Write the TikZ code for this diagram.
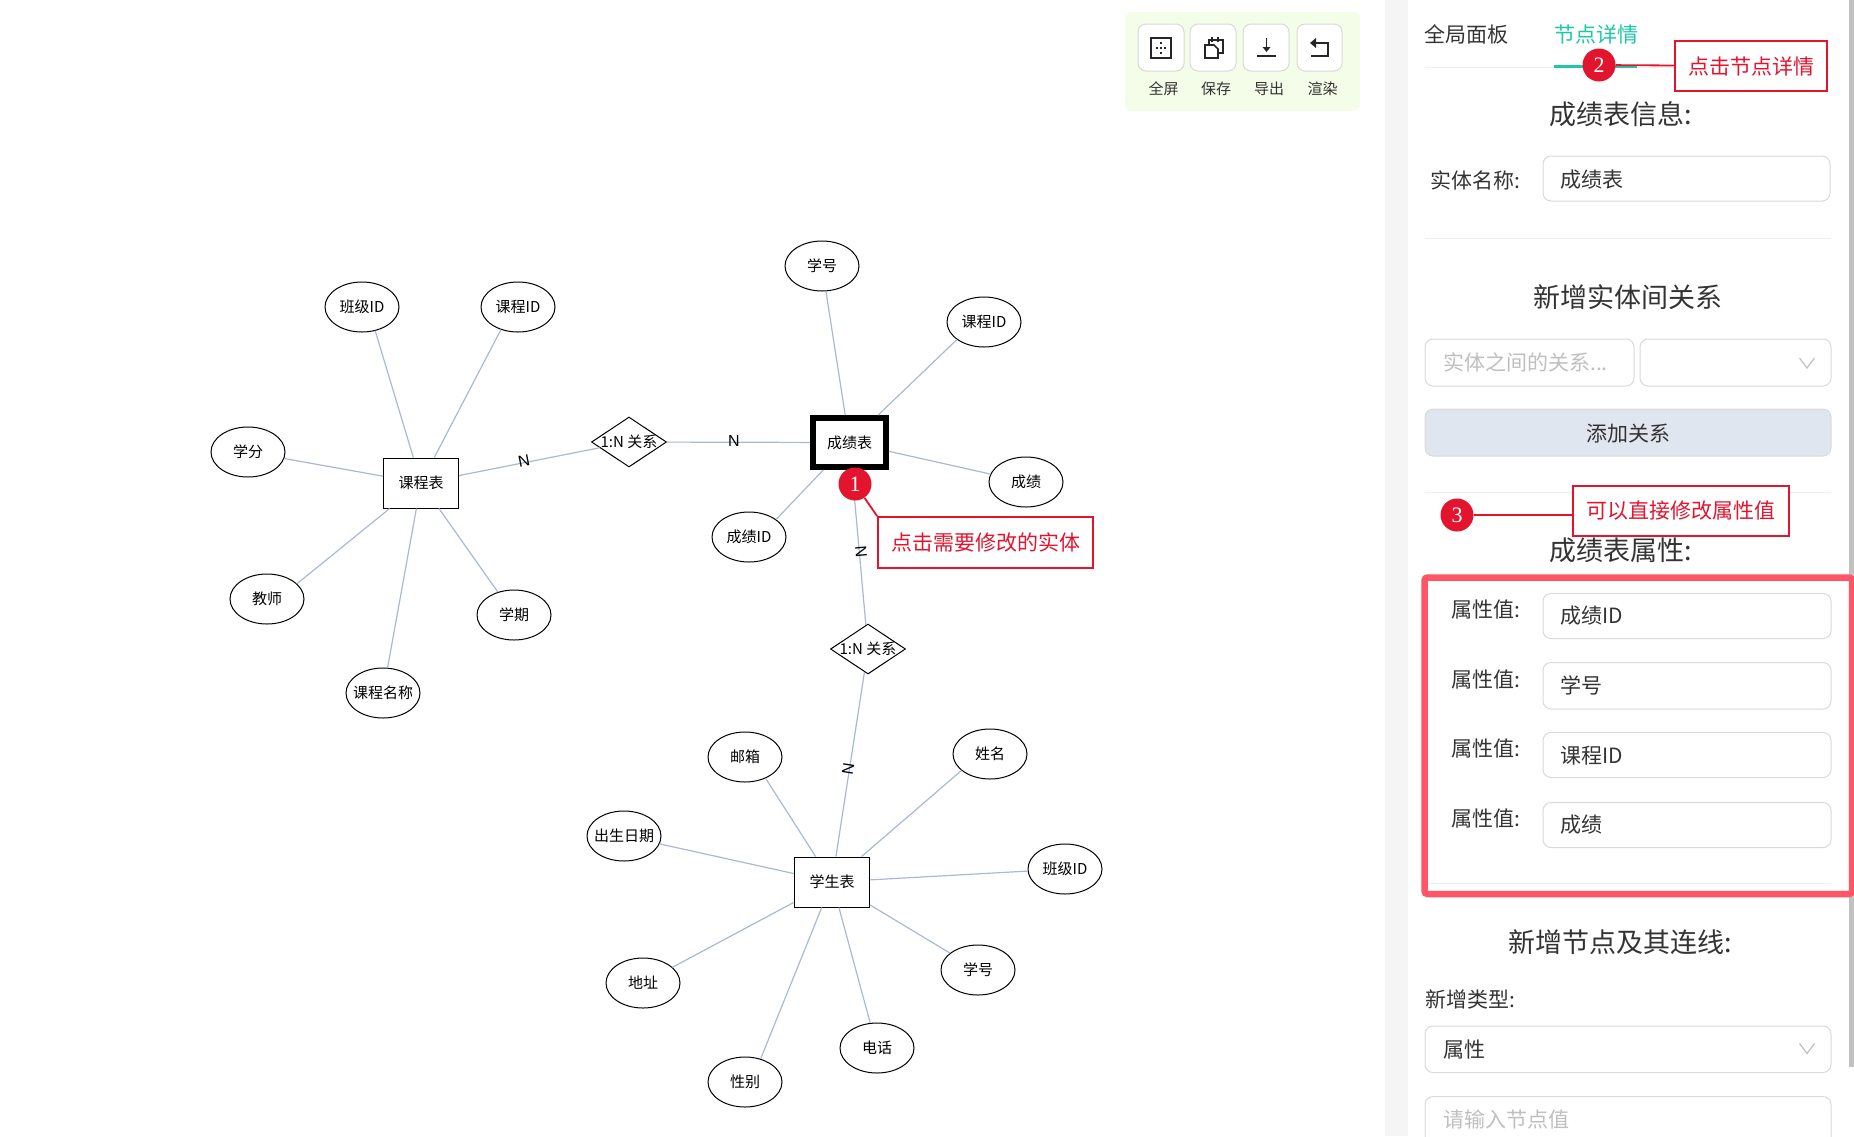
\documentclass[tikz,border=0pt]{standalone}
\usepackage{fontspec}
\setmainfont{Noto Sans CJK SC}
\newfontfamily\numfont{Liberation Serif}
\newfontfamily\cardfont{Liberation Sans}
\usetikzlibrary{shapes.geometric}
\definecolor{edgec}{HTML}{A9B8D8}
\definecolor{redc}{HTML}{E3152E}
\definecolor{redb}{HTML}{FF5566}
\definecolor{greenc}{HTML}{1CC8A6}
\definecolor{txt}{HTML}{333333}
\definecolor{ph}{HTML}{BFBFBF}
\definecolor{bord}{HTML}{D9D9D9}
\definecolor{hair}{HTML}{EEEEEE}
\definecolor{tool}{HTML}{F4FDE8}
\definecolor{strip}{HTML}{F5F5F5}
\definecolor{scrollc}{HTML}{C1C1C1}
\definecolor{btn}{HTML}{E0E6EF}
\newcommand{\szA}{\fontsize{15}{18}\selectfont}
\newcommand{\szB}{\fontsize{21}{25}\selectfont}
\newcommand{\szD}{\fontsize{27}{32}\selectfont}
\tikzset{
  attr/.style={ellipse,draw=black,line width=1pt,fill=white,minimum width=74pt,minimum height=50pt,inner sep=0pt,font=\szA},
  ent/.style={rectangle,draw=black,line width=1pt,fill=white,minimum width=75pt,minimum height=50pt,inner sep=0pt,font=\szA},
  entsel/.style={ent,line width=6pt,minimum width=73pt,minimum height=49pt},
  rel/.style={diamond,draw=black,line width=1pt,fill=white,minimum width=75pt,minimum height=50pt,inner sep=0pt,font=\szA},
  link/.style={draw=edgec,line width=1.2pt},
  card/.style={font=\cardfont\fontsize{16}{18}\selectfont,inner sep=0pt,text=black},
  ui/.style={font=\szB,inner sep=0pt,text=txt},
  uiph/.style={font=\szB,inner sep=0pt,text=ph},
  head/.style={font=\szD,inner sep=0pt,text=txt},
  small/.style={font=\szA,inner sep=0pt,text=txt},
  field/.style={draw=bord,line width=1pt,rounded corners=8pt,fill=white},
  toolbtn/.style={draw=bord,line width=1pt,rounded corners=8pt,fill=white},
  icon/.style={draw=black!85,line width=1.6pt},
  divider/.style={draw=hair,line width=1pt},
  badge/.style={circle,fill=redc,minimum size=33pt,inner sep=0pt,text=white,font=\numfont\fontsize{22}{24}\selectfont},
  note/.style={rectangle,draw=redc,line width=1.8pt,fill=white,text=redc,inner sep=0pt,font=\szB},
  noteline/.style={draw=redc,line width=1.8pt},
  chev/.style={draw=ph,line width=1.2pt}
}
\begin{document}
\begin{tikzpicture}[x=1pt,y=-1pt]
\useasboundingbox (0,0) rectangle (1854,1136);
% panel backgrounds
\fill[strip] (1385,0) rectangle (1408,1136);
\fill[scrollc] (1849,0) rectangle (1854,1067);
% toolbar
\fill[tool,rounded corners=6pt] (1125,12) rectangle (1360,111);
\draw[toolbtn] (1138,24) rectangle (1184,71);
\draw[toolbtn] (1190,24) rectangle (1236,71);
\draw[toolbtn] (1243,24) rectangle (1289,71);
\draw[toolbtn] (1297,24) rectangle (1342,71);
\draw[icon] (1151,38) rectangle (1171,58);
\foreach \px/\py in {1161/43,1157/48,1161/48,1165/48,1161/53}{\fill[black!85] (\px-0.9,\py-0.9) rectangle (\px+0.9,\py+0.9);}
\draw[icon] (1209,45) -- (1209,40) -- (1223,40) -- (1223,53) -- (1218,53);
\draw[icon,fill=white] (1205,45) -- (1214,45) -- (1218,49) -- (1218,58) -- (1205,58) -- cycle;
\draw[icon] (1212,37) -- (1212,42) (1218,37) -- (1218,42);
\draw[icon] (1266.5,38) -- (1266.5,50);
\fill[black!85] (1262.5,47) -- (1270.5,47) -- (1266.5,52) -- cycle;
\draw[icon] (1257,56) -- (1276,56);
\draw[icon] (1314,43) -- (1328,43) -- (1328,56) -- (1311,56);
\fill[black!85] (1316,38) -- (1316,48) -- (1310,43) -- cycle;
\node[small] (t1) at (1163.5,89) {全屏};
\node[small] (t2) at (1216,89) {保存};
\node[small] (t3) at (1269,89) {导出};
\node[small] (t4) at (1322.5,89) {渲染};
% tabs
\draw[divider] (1425,67) -- (1831,67);
\node[ui] (tabA) at (1466.5,34) {全局面板};
\node[ui,text=greenc] (tabB) at (1596,34) {节点详情};
\fill[greenc] (1554,64.5) rectangle (1636.5,67.5);
% entity info
\node[head] (hA) at (1620.5,114) {成绩表信息:};
\node[ui,anchor=east] (lName) at (1521,180) {实体名称:};
\draw[field] (1543,156) rectangle (1830,201);
\node[ui,anchor=west] (vName) at (1560,180) {成绩表};
\draw[divider] (1425,238.5) -- (1831,238.5);
% relation
\node[head] (hB) at (1628,297) {新增实体间关系};
\draw[field] (1425,339) rectangle (1634,386);
\node[uiph,anchor=west] (phA) at (1443,362) {实体之间的关系...};
\draw[field] (1640,339) rectangle (1831,386);
\draw[chev] (1799.5,358) -- (1807,368) -- (1814.5,358);
\draw[field,fill=btn] (1425,409) rectangle (1831,456);
\node[ui] (bAdd) at (1628,434) {添加关系};
\draw[divider] (1425,492) -- (1831,492);
% attributes
\node[head] (hC) at (1621,550) {成绩表属性:};
\node[ui,anchor=east] (l1) at (1521,610) {属性值:};
\node[ui,anchor=east] (l2) at (1521,679.5) {属性值:};
\node[ui,anchor=east] (l3) at (1521,749) {属性值:};
\node[ui,anchor=east] (l4) at (1521,819) {属性值:};
\draw[field] (1543,593.5) rectangle (1831,638.5);
\draw[field] (1543,662.5) rectangle (1831,709);
\draw[field] (1543,732.5) rectangle (1831,777.5);
\draw[field] (1543,802.5) rectangle (1831,847.5);
\node[ui,anchor=west] (v1) at (1560,616) {成绩ID};
\node[ui,anchor=west] (v2) at (1560,685.5) {学号};
\node[ui,anchor=west] (v3) at (1560,755.5) {课程ID};
\node[ui,anchor=west] (v4) at (1560,825) {成绩};
\draw[divider] (1427,883) -- (1831,883);
\draw[redb,line width=6.5pt,rounded corners=3pt] (1424.5,577.5) rectangle (1852,894);
% new node
\node[head] (hD) at (1620.5,942) {新增节点及其连线:};
\node[ui,anchor=west] (lType) at (1425,999) {新增类型:};
\draw[field] (1425,1026) rectangle (1831,1072.5);
\node[ui,anchor=west] (vType) at (1443,1049.5) {属性};
\draw[chev] (1799.5,1043.5) -- (1807,1053.5) -- (1814.5,1043.5);
\draw[draw=bord,line width=1pt,rounded corners=8pt] (1425,1145) -- (1425,1096.5) -- (1831,1096.5) -- (1831,1145);
\node[uiph,anchor=west] (phB) at (1443,1119.5) {请输入节点值};
% ER graph: course table
\node[ent] (course) at (421,483) {课程表};
\node[attr] (cA) at (362,307) {班级ID};
\node[attr] (cB) at (518,307) {课程ID};
\node[attr] (cC) at (248,452) {学分};
\node[attr] (cD) at (267,599) {教师};
\node[attr] (cE) at (514,615) {学期};
\node[attr] (cF) at (383,693) {\makebox[0pt][c]{课程名称}};
% score table
\node[entsel] (score) at (849.5,442.5) {成绩表};
\node[attr] (sA) at (822,266) {学号};
\node[attr] (sB) at (984,322) {课程ID};
\node[attr] (sC) at (1026,482) {成绩};
\node[attr] (sD) at (749,537) {成绩ID};
% student table
\node[ent] (student) at (832,882) {学生表};
\node[attr] (pA) at (745,757) {邮箱};
\node[attr] (pB) at (990,754) {姓名};
\node[attr] (pC) at (624,836) {\makebox[0pt][c]{出生日期}};
\node[attr] (pD) at (1065,869) {班级ID};
\node[attr] (pE) at (643,983) {地址};
\node[attr] (pF) at (978,970) {学号};
\node[attr] (pG) at (877,1048) {电话};
\node[attr] (pH) at (745,1082) {性别};
% relations
\node[rel] (rA) at (629,442) {\makebox[0pt][c]{1:N 关系}};
\node[rel] (rB) at (868,649) {\makebox[0pt][c]{1:N 关系}};
% connectors
\draw[link] (course) -- (cA.-61);
\draw[link] (course) -- (cB.233);
\draw[link] (course) -- (cC);
\draw[link] (course) -- (cD.27);
\draw[link] (course) -- (cE);
\draw[link] (course) -- (cF);
\draw[link] (score) -- (sA);
\draw[link] (score) -- (sB.213);
\draw[link] (score) -- (sC);
\draw[link] (score) -- (sD.33);
\draw[link] (student) -- (pA.-46);
\draw[link] (student) -- (pB.210);
\draw[link] (student) -- (pC);
\draw[link] (student) -- (pD);
\draw[link] (student) -- (pE);
\draw[link] (student) -- (pF);
\draw[link] (student) -- (pG);
\draw[link] (student) -- (pH.56);
\draw[link] (course) -- (rA);
\draw[link] (rA) -- (score);
\draw[link] (score) -- (rB);
\draw[link] (rB) -- (student);
% cardinalities
\node[card,rotate=11] (nA) at (524,461) {N};
\node[card] (nB) at (734,441) {N};
\node[card,rotate=-85] (nC) at (861,552) {N};
\node[card,rotate=81] (nD) at (848,769) {N};
% annotations
\node[badge] (c1) at (855,484) {1};
\node[note,minimum width=215pt,minimum height=51pt] (b1) at (985.5,542.5) {点击需要修改的实体};
\draw[noteline] (c1) -- (b1.north west);
\node[badge] (c2) at (1599,65) {2};
\node[note,minimum width=152pt,minimum height=50pt] (b2) at (1751,66) {点击节点详情};
\draw[noteline] (c2) -- (b2);
\node[badge] (c3) at (1457,515) {3};
\node[note,minimum width=216pt,minimum height=50pt] (b3) at (1681,511) {可以直接修改属性值};
\draw[noteline] (c3.east) -- (c3.east -| b3.west);
\end{tikzpicture}
\end{document}
